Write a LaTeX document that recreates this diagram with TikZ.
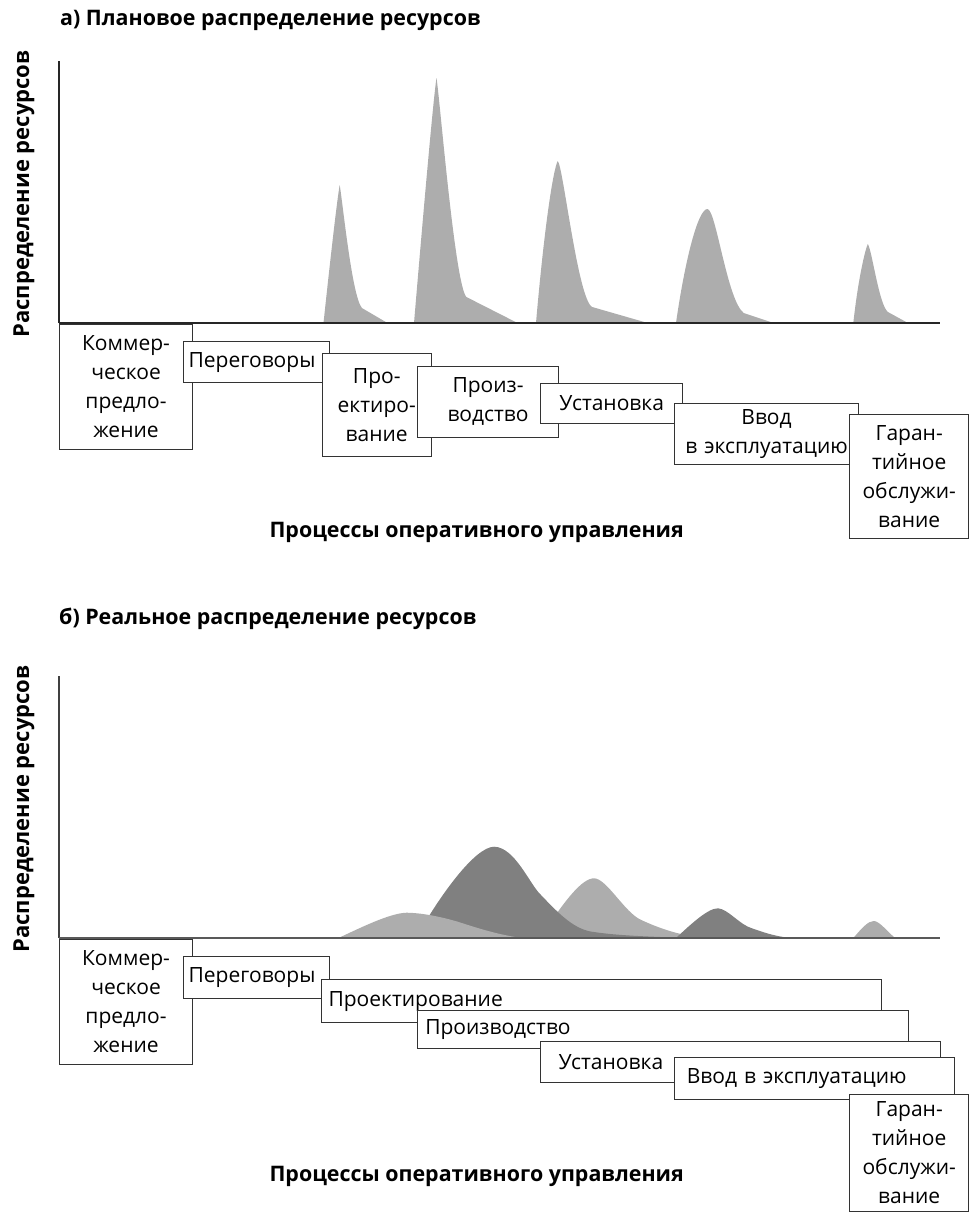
\documentclass[tikz,border=0pt]{standalone}
\usepackage{fontspec}
\setmainfont{Open Sans}

\tikzset{
  stage/.style={draw=black!80, fill=white, line width=1.1pt, inner sep=0pt,
    anchor=north west, align=center, font=\fontsize{21}{29}\selectfont},
  stageleft/.style={stage, align=left},
  heading/.style={font=\fontsize{21.4}{25}\selectfont\bfseries, inner sep=0pt},
  axislabel/.style={heading, rotate=90, font=\fontsize{22}{25}\selectfont\bfseries},
  plan/.style={fill=black!32},
  real/.style={fill=black!50},
}

\begin{document}
\begin{tikzpicture}[x=1pt,y=-1pt]

\useasboundingbox (0,0) rectangle (969,1213);

% a) planned
\node[heading, anchor=west] (ta) at (60,20) {а) Плановое распределение ресурсов};
\node[axislabel] (ya) at (24,194) {Распределение ресурсов};

\fill[plan] (323.5,323) .. controls (330,262) and (337,200) .. (339.7,185) .. controls (343,205) and (352,296) .. (361.9,308) -- (387.5,323) -- cycle;
\fill[plan] (414,323) .. controls (421,240) and (433,100) .. (436.5,78) .. controls (440,100) and (455,285) .. (466.4,297) -- (517.6,323) -- cycle;
\fill[plan] (536,323) .. controls (544,230) and (553,170) .. (557.7,161) .. controls (563,165) and (578,300) .. (592.2,307) -- (647.7,323) -- cycle;
\fill[plan] (676,323) .. controls (685,260) and (698,209) .. (707.4,209) .. controls (716,209) and (727,300) .. (743.7,313) -- (773.5,323) -- cycle;
\fill[plan] (853.3,323) .. controls (858,280) and (865,250) .. (867.8,244) .. controls (872,250) and (879,305) .. (887.9,312) -- (908,323) -- cycle;

\coordinate (Oa) at (59,323);
\draw[black!85, line width=1.2pt] (Oa) -- (59,61);
\draw[black!85, line width=1.6pt] (Oa) -- (940,323);

\node[stage, text width=133pt, minimum height=125pt] (ka) at (59,324) {Коммер-\\ческое\\предло-\\жение};
\node[stageleft, inner xsep=5pt, text width=136pt, minimum height=41pt] (pa) at (183,341) {Переговоры};
\node[stage, text width=109pt, minimum height=103pt] (da) at (321.7,352.7) {Про-\\ектиро-\\вание};
\node[stage, text width=141.6pt, minimum height=70.7pt] (ma) at (416.7,366) {Произ-\\водство};
\node[stage, text width=142.3pt, minimum height=40.6pt] (ua) at (540,382.7) {Установка};
\node[stage, text width=183.4pt, minimum height=61.6pt] (va) at (674.3,402.7) {Ввод\\в эксплуатацию};
\node[stage, text width=118.7pt, minimum height=124pt] (ga) at (849.3,414.3) {Гаран-\\тийное\\обслужи-\\вание};

\node[heading] (la) at (476.7,532) {Процессы оперативного управления};

% b) real
\node[heading, anchor=west] (tb) at (59,619) {б) Реальное распределение ресурсов};
\node[axislabel] (yb) at (24,809) {Распределение ресурсов};

\fill[plan] (540,938) .. controls (565,900) and (582,878) .. (594.4,878.3) .. controls (607,879) and (625,913) .. (641.3,920) .. controls (665,931) and (685,936) .. (705,938) -- cycle;
\fill[real] (416,938) .. controls (440,895) and (475,847) .. (494,846.7) .. controls (515,847) and (530,885) .. (541,895) .. controls (560,915) and (575,930) .. (594,932) .. controls (620,936) and (660,937) .. (690,938) -- cycle;
\fill[plan] (338.4,938) .. controls (360,928) and (390,913) .. (406.7,912.7) .. controls (425,913) and (445,918) .. (457.8,921.7) .. controls (480,929) and (500,935) .. (521.8,938) -- cycle;
\fill[real] (676,938) .. controls (690,925) and (708,908) .. (718,908.3) .. controls (728,909) and (740,925) .. (752,928.3) .. controls (765,933) and (778,937) .. (792,938) -- cycle;
\fill[plan] (853.3,938) .. controls (862,928) and (868,921) .. (873.8,921) .. controls (879,921) and (886,930) .. (895,938) -- cycle;

\coordinate (Ob) at (59,938);
\draw[black!75, line width=1.2pt] (Ob) -- (59,676);
\draw[black!65, line width=1.6pt] (Ob) -- (940,938);

\node[stage, text width=133pt, minimum height=125pt] (kb) at (59,939) {Коммер-\\ческое\\предло-\\жение};
\node[stageleft, inner xsep=5pt, text width=136pt, minimum height=42.3pt] (pb) at (183,955.7) {Переговоры};
\node[stageleft, inner xsep=7pt, text width=545.7pt, minimum height=43pt] (db) at (321,979) {Проектирование};
\node[stageleft, inner xsep=8pt, text width=475.6pt, minimum height=37.7pt] (mb) at (416.7,1010) {Производство};
\node[stageleft, inner xsep=18pt, text width=364pt, minimum height=40.7pt] (ub) at (540,1041) {Установка};
\node[stageleft, inner xsep=12pt, text width=256pt, minimum height=42pt] (vb) at (674.3,1057.3) {Ввод в эксплуатацию};
\node[stage, text width=118.7pt, minimum height=117pt] (gb) at (849.3,1094) {Гаран-\\тийное\\обслужи-\\вание};

\node[heading] (lb) at (476.7,1176) {Процессы оперативного управления};

\end{tikzpicture}
\end{document}
